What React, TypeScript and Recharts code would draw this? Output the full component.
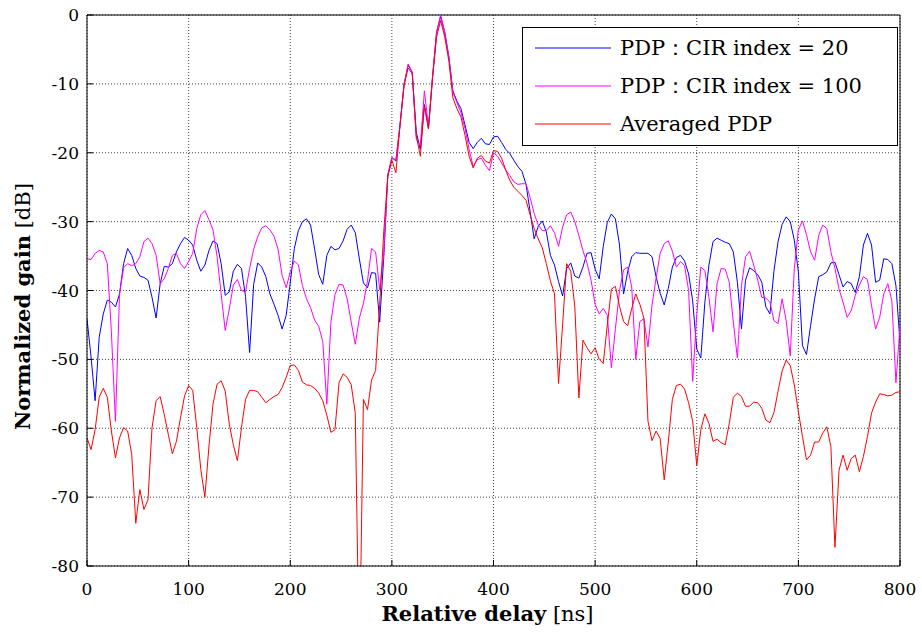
import React from 'react';
import { LineChart, Line, XAxis, YAxis, CartesianGrid, Legend, ReferenceLine } from 'recharts';

// sampling step of the power delay profiles [ns]
const delayStepNs = 4;

const pdpCir20 = [
  -44.1, -49.7, -56.0, -46.8, -43.4, -41.4, -41.7, -42.4, -40.5, -36.1, -33.9, -34.9, -36.8, -37.9, -38.1, -38.5, -41.0, -44.0, -39.0, -36.5, -36.6, -36.1, -34.4, -33.2, -32.3, -32.7,
  -33.4, -35.6, -37.2, -36.3, -34.2, -32.8, -33.2, -36.1, -40.7, -40.2, -37.2, -36.2, -36.8, -40.9, -49.0, -39.1, -36.0, -36.6, -38.0, -40.5, -42.0, -43.6, -45.6, -43.6,
  -38.9, -33.9, -31.3, -30.0, -29.6, -30.5, -34.0, -37.7, -39.1, -34.9, -33.6, -34.1, -33.9, -32.8, -31.1, -30.5, -31.6, -35.4, -38.9, -39.6, -37.4, -37.5, -44.6, -35.2, -23.2, -20.7,
  -21.2, -16.0, -10.0, -7.3, -8.3, -17.0, -19.5, -13.0, -16.5, -9.0, -2.5, -0.2, -2.5, -6.0, -11.0, -12.5, -13.6, -16.0, -18.5, -19.4, -18.5, -17.9, -18.7, -18.8, -17.7,
  -17.6, -18.5, -19.5, -20.1, -21.1, -22.0, -22.7, -24.6, -28.5, -32.5, -30.7, -29.9, -31.5, -34.9, -36.3, -38.7, -40.8, -36.8, -36.0, -37.9, -38.2, -36.6, -34.6, -34.5, -36.9,
  -38.3, -33.6, -30.1, -28.9, -29.6, -33.4, -40.5, -37.3, -35.1, -34.5, -34.6, -34.6, -34.6, -35.1, -38.0, -40.4, -42.1, -39.7, -36.6, -35.2, -34.9, -35.7, -37.6, -41.5, -48.5,
  -49.8, -41.7, -36.3, -32.9, -32.4, -32.7, -33.0, -33.2, -34.4, -38.8, -45.6, -38.5, -36.7, -37.1, -37.7, -38.8, -42.4, -43.4, -37.1, -32.9, -30.4, -29.3, -30.0, -32.7, -37.3,
  -48.0, -49.3, -45.1, -41.2, -38.0, -37.7, -37.3, -36.0, -35.9, -37.7, -39.5, -38.7, -39.0, -40.3, -38.0, -33.4, -31.7, -33.4, -38.8, -38.5, -35.4, -35.5, -36.1, -39.3, -47.5,
];

const pdpCir100 = [
  -35.4, -35.5, -34.6, -34.2, -34.4, -36.1, -46.0, -59.0, -40.5, -36.7, -36.1, -36.4, -36.1, -35.1, -32.9, -32.4, -33.2, -34.9, -39.0, -38.3, -36.8, -34.9, -34.6, -36.1, -36.8, -35.8,
  -34.6, -31.0, -29.0, -28.4, -29.7, -31.2, -35.1, -40.5, -45.8, -42.7, -39.2, -38.4, -40.0, -40.2, -36.8, -34.0, -32.2, -30.9, -30.6, -31.2, -32.1, -34.0, -37.8, -39.6,
  -37.3, -35.7, -36.3, -39.3, -41.2, -42.5, -44.3, -45.2, -47.4, -56.5, -44.6, -40.6, -39.1, -39.2, -41.2, -44.6, -47.8, -44.0, -41.9, -38.6, -33.9, -34.4, -39.9, -34.7, -23.4, -20.8,
  -21.0, -16.0, -10.2, -7.1, -8.3, -18.0, -19.0, -11.0, -16.2, -9.0, -2.5, 0, -2.5, -6.0, -11.2, -12.7, -14.2, -16.5, -19.5, -22.0, -21.0, -20.8, -21.8, -22.6, -20.0,
  -20.5, -21.5, -22.5, -23.3, -24.2, -24.6, -24.5, -24.5, -26.5, -28.8, -30.5, -31.3, -31.3, -30.6, -31.6, -33.6, -30.8, -29.0, -28.6, -30.0, -32.0, -34.2, -36.0, -38.5, -42.0,
  -43.4, -42.6, -43.6, -51.2, -45.5, -40.0, -37.0, -36.6, -39.5, -50.0, -44.5, -44.1, -48.2, -42.1, -38.2, -34.6, -33.2, -32.8, -34.3, -36.6, -35.8, -36.4, -40.0, -53.2, -43.5,
  -36.6, -37.1, -41.0, -46.0, -39.0, -36.8, -36.9, -38.8, -44.6, -49.8, -39.3, -35.1, -34.3, -36.3, -38.5, -41.0, -41.1, -41.7, -44.4, -44.8, -41.2, -44.4, -49.5, -36.8, -31.2,
  -29.9, -31.9, -34.4, -35.6, -32.0, -30.5, -31.0, -34.4, -36.8, -39.8, -41.7, -43.9, -42.9, -40.7, -39.2, -38.0, -38.4, -42.2, -45.6, -43.9, -40.5, -39.0, -41.5, -53.4, -45.1,
];

const pdpAveraged = [
  -61.4, -63.1, -60.2, -55.5, -54.2, -55.5, -60.4, -64.3, -61.4, -59.9, -60.4, -63.8, -73.8, -68.9, -71.8, -70.4, -59.9, -56.0, -55.4, -58.0, -60.9, -63.7, -61.9, -58.5, -55.3, -53.8,
  -54.5, -59.9, -66.0, -70.0, -62.6, -56.5, -53.6, -53.1, -54.6, -59.4, -62.4, -64.7, -59.9, -55.8, -54.5, -54.5, -54.7, -55.5, -56.3, -55.8, -55.4, -55.1, -54.1, -52.6,
  -50.9, -50.8, -51.6, -53.3, -53.7, -53.8, -54.2, -54.9, -56.0, -58.1, -60.6, -60.2, -53.4, -52.1, -52.6, -53.7, -57.8, -95.0, -55.8, -57.3, -53.0, -51.6, -42.0, -31.5, -23.4, -21.1,
  -22.9, -16.0, -10.2, -7.7, -8.5, -17.5, -20.5, -13.2, -16.5, -9.2, -3.2, -0.8, -3.2, -6.6, -12.0, -13.6, -14.8, -17.5, -20.5, -22.2, -20.8, -20.4, -21.2, -21.5, -19.7,
  -19.8, -20.8, -22.5, -24.0, -25.0, -25.6, -26.2, -26.9, -29.0, -31.0, -32.5, -33.8, -36.1, -38.6, -40.5, -53.5, -45.0, -36.1, -37.2, -42.3, -55.6, -47.2, -48.3, -49.2, -48.3,
  -50.0, -50.6, -45.0, -39.8, -39.4, -42.3, -44.5, -45.1, -42.6, -40.5, -42.0, -44.0, -59.0, -61.8, -60.4, -61.5, -67.5, -62.0, -55.8, -53.8, -53.6, -54.3, -56.3, -59.0, -65.4,
  -60.2, -57.9, -59.3, -61.9, -61.6, -62.1, -62.4, -59.3, -55.5, -54.9, -55.4, -56.8, -56.8, -56.2, -56.3, -57.1, -58.8, -59.2, -57.7, -54.6, -51.7, -50.1, -50.9, -53.7, -57.6,
  -61.2, -64.6, -63.9, -62.0, -62.0, -60.7, -59.8, -62.7, -77.3, -66.1, -63.9, -66.1, -64.4, -63.9, -66.3, -64.1, -61.2, -57.8, -56.2, -55.0, -55.1, -55.3, -55.2, -54.8, -54.7,
];

const delayTicks = [0, 100, 200, 300, 400, 500, 600, 700, 800];
const gainTicks = [0, -10, -20, -30, -40, -50, -60, -70, -80];

const seriesNames = ['PDP\uFF1ACIR index = 20', 'PDP\uFF1ACIR index = 100', 'Averaged PDP'];

const rows = pdpCir20.map((v, i) => ({
  delay: i * delayStepNs,
  cir20: v,
  cir100: pdpCir100[i],
  avg: pdpAveraged[i],
}));

const SERIF = "'DejaVu Serif', serif";
const Y_TICK_GAP = 8;
const X_TICK_GAP = 16;

function GainTick({ x, y, payload }: any) {
  return (
    <g>
      <line x1={x + Y_TICK_GAP} x2={x + Y_TICK_GAP + 6} y1={y} y2={y} stroke="#000" />
      <text x={x} y={y} dy="0.36em" textAnchor="end" fontFamily={SERIF} fontSize={17} fill="#000">
        {payload.value}
      </text>
    </g>
  );
}

function DelayTick({ x, y, payload }: any) {
  return (
    <g>
      <line x1={x} x2={x} y1={y - X_TICK_GAP} y2={y - X_TICK_GAP - 6} stroke="#000" />
      <text x={x} y={y} dy="0.76em" textAnchor="middle" fontFamily={SERIF} fontSize={17} fill="#000">
        {payload.value}
      </text>
    </g>
  );
}

function DelayLabel({ viewBox }: any) {
  return (
    <text x={viewBox.x + viewBox.width / 2 - 6} y={viewBox.y + 55} textAnchor="middle" fontFamily={SERIF} fontSize={21} fill="#000">
      <tspan fontWeight="bold">Relative delay</tspan>
      <tspan> [ns]</tspan>
    </text>
  );
}

function GainLabel({ viewBox }: any) {
  const cx = viewBox.x + 3;
  const cy = viewBox.y + viewBox.height / 2 + 16;
  return (
    <text x={cx} y={cy} transform={`rotate(-90 ${cx} ${cy})`} textAnchor="middle" fontFamily={SERIF} fontSize={21} fill="#000">
      <tspan fontWeight="bold">Normalized gain</tspan>
      <tspan> [dB]</tspan>
    </text>
  );
}

function LegendBox({ payload }: any) {
  // keep the series order rather than the alphabetical one
  const items = [...(payload || [])].sort((a: any, b: any) => seriesNames.indexOf(a.value) - seriesNames.indexOf(b.value));
  return (
    <div style={{ border: '1px solid #000', background: '#fff', boxSizing: 'border-box', width: 376, height: 119, paddingTop: 1 }}>
      {items.map((entry: any) => (
        <div key={entry.value} style={{ display: 'flex', alignItems: 'center', height: 38 }}>
          <svg width={88} height={4} style={{ flex: 'none' }}>
            <line x1={12} x2={88} y1={2} y2={2} stroke={entry.color} strokeWidth={1} />
          </svg>
          <span style={{ marginLeft: 9, fontFamily: SERIF, fontSize: 21, color: '#000', whiteSpace: 'nowrap' }}>{entry.value}</span>
        </div>
      ))}
    </div>
  );
}

export default function App() {
  return (
    <div style={{ position: 'absolute', left: 0, top: 0, width: 922, height: 632, background: '#fff' }}>
      <LineChart width={922} height={632} data={rows} margin={{ top: 15, right: 22, left: 27, bottom: 36 }}>
        <CartesianGrid stroke="#444" strokeDasharray="1 2" />
        <XAxis
          dataKey="delay"
          type="number"
          domain={[0, 800]}
          ticks={delayTicks}
          interval={0}
          height={30}
          tickSize={0}
          tickLine={false}
          tickMargin={X_TICK_GAP}
          tick={<DelayTick />}
          axisLine={{ stroke: '#000' }}
          allowDataOverflow
          label={<DelayLabel />}
        />
        <YAxis
          type="number"
          domain={[-80, 0]}
          ticks={gainTicks}
          interval={0}
          width={60}
          tickSize={0}
          tickLine={false}
          tickMargin={Y_TICK_GAP}
          tick={<GainTick />}
          axisLine={{ stroke: '#000' }}
          allowDataOverflow
          label={<GainLabel />}
        />
        <ReferenceLine y={0} stroke="#000" />
        <ReferenceLine x={800} stroke="#000" />
        <Legend
          layout="horizontal"
          verticalAlign="middle"
          align="center"
          content={<LegendBox />}
          wrapperStyle={{ left: 522, top: 27, width: 376, height: 119 }}
        />
        <Line dataKey="cir20" name={seriesNames[0]} stroke="#0000ff" strokeWidth={1} dot={false} type="linear" isAnimationActive={false} />
        <Line dataKey="cir100" name={seriesNames[1]} stroke="#ff00ff" strokeWidth={1} dot={false} type="linear" isAnimationActive={false} />
        <Line dataKey="avg" name={seriesNames[2]} stroke="#ff0000" strokeWidth={1} dot={false} type="linear" isAnimationActive={false} />
      </LineChart>
    </div>
  );
}
